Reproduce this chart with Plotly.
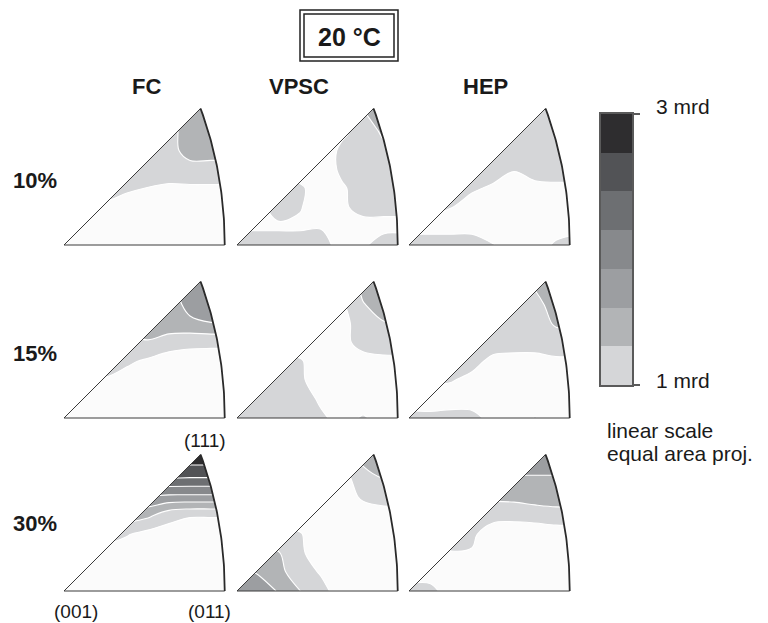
import numpy as np
import plotly.graph_objects as go

# ---------------- data ----------------
models = ["FC", "VPSC", "HEP"]
strains = ["10%", "15%", "30%"]

# grid nodes in equal-area projection coordinates of the standard triangle
grid_x = [0.0, 0.1, 0.2, 0.3, 0.4, 0.5, 0.6, 0.7, 0.8]
grid_y = [0.0, 0.09, 0.18, 0.27, 0.36, 0.45, 0.54, 0.62, 0.70]

# texture intensity (mrd), rows = grid_y, cols = grid_x
fc_10 = [
    [0.70, 0.70, 0.70, 0.70, 0.70, 0.70, 0.70, 0.70, 0.70],
    [0.75, 0.75, 0.75, 0.75, 0.75, 0.75, 0.75, 0.75, 0.75],
    [0.95, 0.95, 0.95, 0.85, 0.85, 0.85, 0.85, 0.85, 0.85],
    [1.10, 1.10, 1.10, 1.05, 0.99, 0.95, 0.95, 0.95, 0.95],
    [1.15, 1.15, 1.15, 1.15, 1.15, 1.15, 1.20, 1.20, 1.20],
    [1.15, 1.15, 1.15, 1.15, 1.15, 1.20, 1.38, 1.38, 1.38],
    [1.15, 1.15, 1.15, 1.15, 1.15, 1.20, 1.40, 1.40, 1.40],
    [1.20, 1.20, 1.20, 1.20, 1.20, 1.20, 1.40, 1.40, 1.40],
    [1.20, 1.20, 1.20, 1.20, 1.20, 1.20, 1.40, 1.40, 1.40],
]
vpsc_10 = [
    [1.15, 1.15, 1.15, 1.15, 1.10, 0.90, 0.95, 1.15, 1.15],
    [0.95, 0.95, 0.95, 0.95, 0.98, 0.85, 0.90, 0.90, 0.90],
    [0.90, 0.90, 1.15, 1.02, 0.85, 0.95, 1.10, 1.10, 1.10],
    [0.90, 0.90, 1.15, 1.05, 0.85, 0.97, 1.10, 1.10, 1.10],
    [0.90, 0.90, 0.90, 0.85, 0.85, 1.05, 1.10, 1.10, 1.10],
    [0.90, 0.90, 0.90, 0.90, 0.85, 1.05, 1.15, 1.20, 1.20],
    [0.90, 0.90, 0.90, 0.90, 0.90, 0.95, 1.10, 1.35, 1.35],
    [0.90, 0.90, 0.90, 0.90, 0.90, 1.02, 1.25, 1.45, 1.45],
    [0.90, 0.90, 0.90, 0.90, 0.90, 1.10, 1.40, 1.50, 1.50],
]
hep_10 = [
    [1.20, 1.20, 1.20, 1.20, 1.02, 0.85, 0.85, 1.05, 1.20],
    [0.85, 0.85, 0.85, 0.85, 0.85, 0.85, 0.85, 0.85, 0.85],
    [1.10, 1.10, 1.01, 0.85, 0.85, 0.85, 0.85, 0.85, 0.85],
    [1.10, 1.10, 1.10, 1.05, 0.95, 0.85, 0.90, 0.93, 0.93],
    [1.15, 1.15, 1.15, 1.15, 1.15, 1.02, 1.15, 1.15, 1.15],
    [1.15, 1.15, 1.15, 1.15, 1.15, 1.15, 1.15, 1.15, 1.15],
    [1.15, 1.15, 1.15, 1.15, 1.15, 1.15, 1.15, 1.15, 1.15],
    [1.18, 1.18, 1.18, 1.18, 1.18, 1.18, 1.18, 1.18, 1.18],
    [1.20, 1.20, 1.20, 1.20, 1.20, 1.20, 1.20, 1.20, 1.20],
]
fc_15 = [
    [0.70, 0.70, 0.70, 0.70, 0.70, 0.70, 0.70, 0.70, 0.70],
    [0.80, 0.80, 0.80, 0.80, 0.80, 0.80, 0.80, 0.80, 0.80],
    [0.97, 0.97, 0.97, 0.88, 0.85, 0.85, 0.85, 0.85, 0.85],
    [1.15, 1.15, 1.15, 1.05, 0.95, 0.85, 0.85, 0.85, 0.85],
    [1.20, 1.20, 1.20, 1.20, 1.26, 1.15, 1.08, 1.07, 1.07],
    [1.45, 1.45, 1.45, 1.45, 1.45, 1.45, 1.50, 1.56, 1.56],
    [1.45, 1.45, 1.45, 1.45, 1.45, 1.40, 1.68, 1.75, 1.75],
    [1.45, 1.45, 1.45, 1.45, 1.45, 1.45, 1.75, 1.80, 1.80],
    [1.50, 1.50, 1.50, 1.50, 1.50, 1.50, 1.80, 1.80, 1.80],
]
vpsc_15 = [
    [1.15, 1.15, 1.15, 1.15, 1.05, 0.90, 1.03, 0.90, 0.90],
    [1.15, 1.15, 1.15, 1.15, 0.95, 0.85, 0.85, 0.85, 0.85],
    [1.15, 1.15, 1.15, 1.05, 0.85, 0.85, 0.85, 0.85, 0.85],
    [1.15, 1.15, 1.15, 1.03, 0.85, 0.85, 0.90, 0.92, 0.92],
    [0.85, 0.85, 0.85, 0.85, 0.85, 0.92, 1.10, 1.16, 1.16],
    [0.85, 0.85, 0.85, 0.85, 0.85, 0.90, 1.15, 1.27, 1.27],
    [0.85, 0.85, 0.85, 0.85, 0.85, 0.95, 1.27, 1.40, 1.45],
    [0.85, 0.85, 0.85, 0.85, 0.85, 1.02, 1.35, 1.45, 1.45],
    [0.85, 0.85, 0.85, 0.85, 0.85, 1.10, 1.45, 1.50, 1.50],
]
hep_15 = [
    [1.10, 1.08, 1.12, 1.10, 0.90, 0.90, 1.01, 0.90, 0.90],
    [0.85, 0.85, 0.85, 0.85, 0.85, 0.85, 0.85, 0.85, 0.85],
    [1.05, 1.05, 1.02, 0.92, 0.85, 0.85, 0.85, 0.85, 0.85],
    [1.10, 1.10, 1.10, 1.10, 0.92, 0.88, 0.88, 0.95, 0.95],
    [1.15, 1.15, 1.15, 1.15, 1.15, 1.15, 1.15, 1.15, 1.15],
    [1.15, 1.15, 1.15, 1.15, 1.15, 1.15, 1.15, 1.32, 1.35],
    [1.15, 1.15, 1.15, 1.15, 1.15, 1.15, 1.20, 1.40, 1.45],
    [1.15, 1.15, 1.15, 1.15, 1.15, 1.15, 1.30, 1.45, 1.50],
    [1.20, 1.20, 1.20, 1.20, 1.20, 1.20, 1.40, 1.50, 1.50],
]
fc_30 = [
    [0.70, 0.70, 0.70, 0.70, 0.70, 0.70, 0.70, 0.70, 0.70],
    [0.75, 0.75, 0.75, 0.75, 0.75, 0.75, 0.75, 0.75, 0.75],
    [0.85, 0.85, 0.85, 0.85, 0.80, 0.80, 0.80, 0.80, 0.80],
    [1.15, 1.15, 1.15, 1.02, 0.90, 0.87, 0.85, 0.85, 0.85],
    [1.50, 1.50, 1.50, 1.45, 1.35, 1.10, 1.02, 1.02, 1.02],
    [1.85, 1.85, 1.85, 1.85, 1.85, 1.80, 1.80, 1.80, 1.80],
    [2.45, 2.45, 2.45, 2.45, 2.45, 2.45, 2.43, 2.43, 2.43],
    [2.81, 2.81, 2.81, 2.81, 2.81, 2.81, 2.81, 2.81, 2.81],
    [3.20, 3.20, 3.20, 3.20, 3.20, 3.20, 3.20, 3.20, 3.20],
]
vpsc_30 = [
    [1.75, 1.70, 1.55, 1.29, 1.10, 0.85, 0.85, 0.85, 0.85],
    [1.65, 1.55, 1.35, 1.15, 0.97, 0.85, 0.85, 0.85, 0.85],
    [1.40, 1.40, 1.30, 1.05, 0.85, 0.85, 0.85, 0.85, 0.85],
    [1.15, 1.15, 1.15, 1.02, 0.85, 0.85, 0.85, 0.85, 0.85],
    [0.85, 0.85, 0.85, 0.85, 0.85, 0.85, 0.85, 0.85, 0.85],
    [0.85, 0.85, 0.85, 0.85, 0.85, 0.85, 1.05, 1.15, 1.15],
    [0.85, 0.85, 0.85, 0.85, 0.85, 0.90, 1.15, 1.30, 1.30],
    [0.85, 0.85, 0.85, 0.85, 0.85, 1.02, 1.35, 1.45, 1.45],
    [0.85, 0.85, 0.85, 0.85, 0.85, 1.10, 1.45, 1.50, 1.50],
]
hep_30 = [
    [1.10, 1.10, 0.85, 0.85, 0.85, 0.85, 0.85, 0.85, 0.85],
    [0.85, 0.85, 0.85, 0.85, 0.85, 0.85, 0.85, 0.85, 0.85],
    [0.85, 0.85, 0.98, 0.98, 0.85, 0.85, 0.85, 0.85, 0.85],
    [1.15, 1.15, 1.15, 1.05, 0.85, 0.85, 0.85, 0.85, 0.85],
    [1.10, 1.10, 1.10, 1.10, 1.10, 1.075, 1.10, 1.16, 1.16],
    [1.35, 1.35, 1.35, 1.35, 1.35, 1.376, 1.435, 1.44, 1.44],
    [1.55, 1.55, 1.55, 1.55, 1.55, 1.55, 1.55, 1.55, 1.55],
    [1.70, 1.70, 1.70, 1.70, 1.70, 1.70, 1.70, 1.70, 1.70],
    [1.75, 1.75, 1.75, 1.75, 1.75, 1.75, 1.75, 1.75, 1.75],
]

# contour levels: 1 .. 3 mrd, 7 bands
level_start = 1.0
level_end = 3.0
n_bands = 7
band_colors = ["#d5d6d8", "#b2b4b6", "#9c9ea1", "#87898c",
               "#6d6f72", "#525356", "#2e2d2f"]
low_color = "#fbfbfb"
scale_labels = ["1 mrd", "3 mrd"]

panel_data = {
    ("FC", "10%"): fc_10, ("VPSC", "10%"): vpsc_10, ("HEP", "10%"): hep_10,
    ("FC", "15%"): fc_15, ("VPSC", "15%"): vpsc_15, ("HEP", "15%"): hep_15,
    ("FC", "30%"): fc_30, ("VPSC", "30%"): vpsc_30, ("HEP", "30%"): hep_30,
}

# ---------------- geometry ----------------
W, H = 768, 623
FONT = "Liberation Sans, Arial, sans-serif"
level_step = (level_end - level_start) / n_bands


def eq_area(d):
    d = np.asarray(d, float)
    d = d / np.linalg.norm(d)
    theta = np.arccos(d[2])
    phi = np.arctan2(d[0], d[1])
    r = 2.0 * np.sin(theta / 2.0)
    return r * np.cos(phi), r * np.sin(phi)


ts = np.linspace(0, 1, 60)
arc = [eq_area((t, 1.0, 1.0)) for t in ts]
arc_x = [p[0] for p in arc]
arc_y = [p[1] for p in arc]
p011 = eq_area((0, 1, 1))
p111 = eq_area((1, 1, 1))

tri_x = [0.0] + arc_x + [0.0]
tri_y = [0.0] + arc_y + [0.0]
# outer box (clockwise) appended to triangle (counter-clockwise) -> hole
mask_x = tri_x + [-1, -1, 2, 2, -1, 0.0]
mask_y = tri_y + [-1, 2, 2, -1, -1, 0.0]

# contour colorscale: region below start -> low_color, bands -> band colors
cscale = [[0.0, low_color], [1 / 16, low_color]]
for k, col in enumerate(band_colors):
    lo = (2 * k + 1) / 16
    hi = (2 * k + 3) / 16 if k < n_bands - 1 else 1.0
    cscale += [[lo, col], [hi, col]]

fig = go.Figure()
K = 210.0  # px per projection unit
col_left = [64, 237, 409]
row_base = [245, 418, 591]
xr = [-0.015, 0.81]
yr = [-0.02, 0.71]
axes = {}
n = 0
for r, strain in enumerate(strains):
    for c, model in enumerate(models):
        n += 1
        xa = "x" if n == 1 else f"x{n}"
        ya = "y" if n == 1 else f"y{n}"
        xk = "xaxis" if n == 1 else f"xaxis{n}"
        yk = "yaxis" if n == 1 else f"yaxis{n}"
        L, B = col_left[c], row_base[r]
        axes[xk] = dict(domain=[(L + xr[0] * K) / W, (L + xr[1] * K) / W],
                        range=xr, visible=False, fixedrange=True, anchor=ya)
        axes[yk] = dict(domain=[1 - (B - yr[0] * K) / H, 1 - (B - yr[1] * K) / H],
                        range=yr, visible=False, fixedrange=True, anchor=xa)
        fig.add_trace(go.Contour(
            x=grid_x, y=grid_y, z=panel_data[(model, strain)],
            colorscale=cscale, showscale=False, autocontour=False,
            contours=dict(start=level_start, end=level_end + 0.01,
                          size=level_step, coloring="fill", showlines=True),
            line=dict(color="white", width=1.1, smoothing=1),
            hoverinfo="skip", xaxis=xa, yaxis=ya))
        fig.add_trace(go.Scatter(
            x=mask_x, y=mask_y, fill="toself", fillcolor="white",
            mode="lines", line=dict(width=0, color="white"),
            hoverinfo="skip", xaxis=xa, yaxis=ya))
        fig.add_trace(go.Scatter(
            x=[p011[0], 0.0, p111[0]], y=[p011[1], 0.0, p111[1]],
            mode="lines", line=dict(color="#3a3a3a", width=1),
            hoverinfo="skip", xaxis=xa, yaxis=ya))
        fig.add_trace(go.Scatter(
            x=arc_x, y=arc_y, mode="lines",
            line=dict(color="#2a2a2a", width=1.8),
            hoverinfo="skip", xaxis=xa, yaxis=ya))

# ---------------- scale bar ----------------
levels = [level_start + i * level_step for i in range(n_bands + 1)]
mids = [[(levels[i] + levels[i + 1]) / 2] for i in range(n_bands)]
hscale = []
for k, col in enumerate(band_colors):
    hscale += [[k / n_bands, col], [(k + 1) / n_bands, col]]
fig.add_trace(go.Heatmap(
    x=[0, 1], y=levels, z=mids, colorscale=hscale,
    zmin=level_start, zmax=level_end, showscale=False,
    hoverinfo="skip", xaxis="x10", yaxis="y10"))
axes["xaxis10"] = dict(domain=[601 / W, 632 / W], range=[0, 1], anchor="y10",
                       showline=True, mirror=True, linecolor="#5a5a5a",
                       linewidth=1.5, showgrid=False, zeroline=False,
                       showticklabels=False, ticks="", fixedrange=True)
axes["yaxis10"] = dict(domain=[1 - 385 / H, 1 - 114 / H], anchor="x10",
                       range=[level_start, level_end], side="right",
                       showline=True, mirror=True, linecolor="#5a5a5a",
                       linewidth=1.5, showgrid=False, zeroline=False,
                       tickvals=[level_start, level_end], ticks="outside",
                       ticklen=6, tickwidth=1.5, tickcolor="#5a5a5a",
                       showticklabels=False, fixedrange=True)

# ---------------- text ----------------
ann = []


def add_text(txt, px, py, size, bold=False, anchor="center"):
    ann.append(dict(text=txt, x=px / W, y=1 - py / H, xref="paper",
                    yref="paper", showarrow=False, xanchor=anchor,
                    yanchor="middle",
                    font=dict(family=FONT, size=size, color="#1a1a1a",
                              weight="bold" if bold else "normal")))


add_text("20 °C", 349, 37, 25, bold=True)
for name, px in zip(models, [146, 299, 485]):
    add_text(name, px, 87, 22, bold=True)
for name, py in zip(strains, [180, 353, 523]):
    add_text(name, 11, py, 22, bold=True, anchor="left")
add_text("(111)", 205, 440, 19)
add_text("(001)", 76, 611, 19)
add_text("(011)", 209, 611, 19)
add_text(scale_labels[1], 654, 106, 21, anchor="left")
add_text(scale_labels[0], 654, 380, 21, anchor="left")
add_text("linear scale", 605, 430, 21, anchor="left")
add_text("equal area proj.", 605, 453, 21, anchor="left")

shapes = [
    dict(type="rect", xref="paper", yref="paper",
         x0=300 / W, x1=398 / W, y0=1 - 61 / H, y1=1 - 10 / H,
         line=dict(color="#222", width=1.5)),
    dict(type="rect", xref="paper", yref="paper",
         x0=304 / W, x1=394 / W, y0=1 - 57 / H, y1=1 - 14 / H,
         line=dict(color="#222", width=1.5)),
]

fig.update_layout(
    width=W, height=H, margin=dict(l=0, r=0, t=0, b=0),
    paper_bgcolor="white", plot_bgcolor="white", showlegend=False,
    annotations=ann, shapes=shapes, **axes)

fig.write_html("out.html",
               config={"displayModeBar": False},
               post_script="document.body.style.margin='0';"
                           "document.body.style.overflow='hidden';")
